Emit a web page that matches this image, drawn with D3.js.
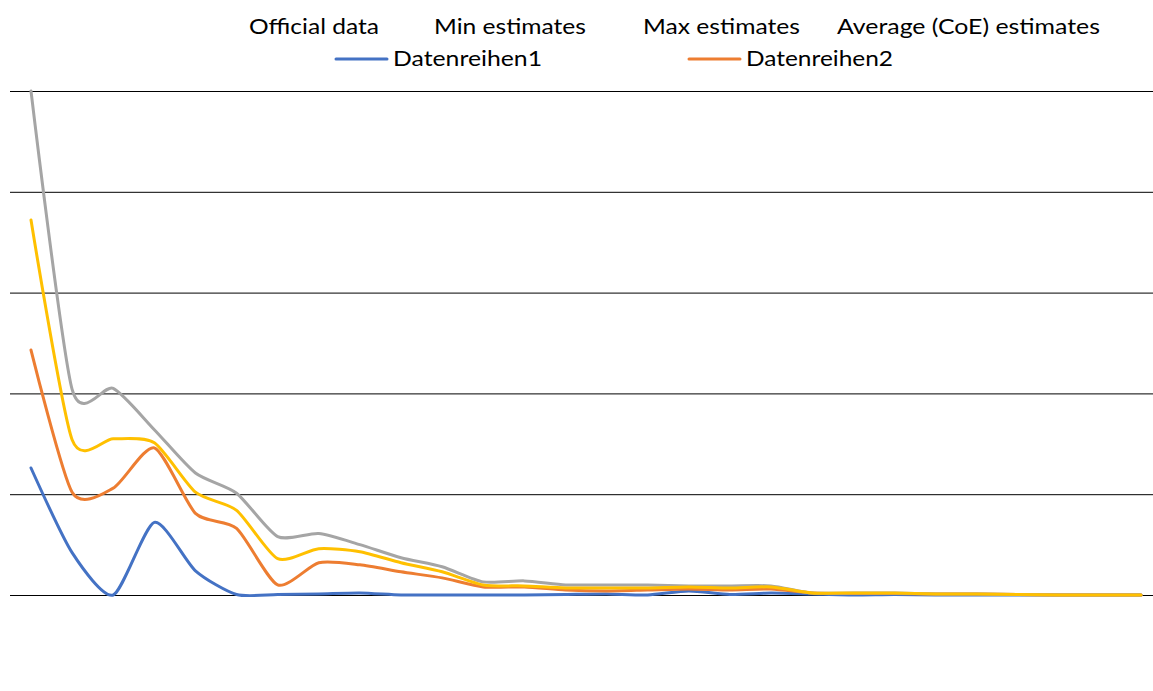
<!DOCTYPE html>
<html>
<head>
<meta charset="utf-8">
<script src="https://cdn.jsdelivr.net/npm/d3@7"></script>
<style>
  body { margin: 0; background: #fff; }
  svg { display: block; }
  text { font-family: Lato, "Open Sans", sans-serif; fill: #000; }
</style>
</head>
<body>
<svg id="chart"></svg>
<script>
// categories (no labels are shown on the x axis)
const categories = d3.range(1, 29).map(String);

// series values (gridline step = 100)
const datenreihen1 = [126, 42, 0, 72, 24, 0.5, 0.5, 1, 2, 0, 0, 0, 0, 0.5, 1, 0, 4, 0.5, 2, 1, 0, 0.5, 0, 0, 0, 0, 0, 0];
const datenreihen2 = [243, 102, 106, 146, 81, 66, 10, 32, 30, 23, 17, 8, 8, 5, 4, 5, 6, 5, 6, 2, 1.5, 1.5, 1, 1, 0.5, 0, 0, 0];
const grey = [500, 204, 205, 164, 121, 101, 58, 61, 50, 37, 28, 13, 14, 10, 10, 10, 9, 9, 9, 2, 2, 2, 1, 1, 0.5, 0, 0, 0];
const yellow = [372, 154, 155, 151, 102, 84, 36, 46, 43, 32, 23, 10, 9, 7, 7, 7, 8, 7, 8, 2, 2, 2, 1, 1, 0.5, 0, 0, 0];

const yTicks = [0, 100, 200, 300, 400, 500];

const legendRow1 = ["Official data", "Min estimates", "Max estimates", "Average (CoE) estimates"];
const legendRow2 = ["Datenreihen1", "Datenreihen2"];

const width = 1153, height = 691;
const svg = d3.select("#chart").attr("width", width).attr("height", height);

const xScale = d3.scalePoint()
    .domain(categories)
    .range([31, 1141]);

const yScale = d3.scaleLinear()
    .domain([0, 500])
    .range([595, 91]);

// gridlines
const yAxis = d3.axisLeft(yScale)
    .tickValues(yTicks)
    .tickSize(-(width - 10))
    .tickFormat("");

svg.append("g")
    .attr("transform", "translate(10,0)")
    .call(yAxis)
    .call(g => g.select(".domain").remove())
    .selectAll("line")
        .attr("stroke", "#000")
        .attr("stroke-width", 1);

const line = d3.line()
    .x((d, i) => xScale(categories[i]))
    .y(d => yScale(d))
    .curve(d3.curveCardinal.tension(0.3));

const series = [
    { values: datenreihen1, color: "#4472C4" },
    { values: datenreihen2, color: "#ED7D31" },
    { values: grey, color: "#A5A5A5" },
    { values: yellow, color: "#FFC000" }
];

svg.selectAll(".series")
    .data(series)
    .enter()
    .append("path")
    .attr("class", "series")
    .attr("fill", "none")
    .attr("stroke", d => d.color)
    .attr("stroke-width", 3)
    .attr("stroke-linecap", "round")
    .attr("d", d => line(d.values));

// legend (text stretched to the widths seen in the picture)
const row1X = [249, 434, 643, 837];
const row1W = [130, 152, 157, 263];
svg.selectAll(".leg1")
    .data(legendRow1)
    .enter()
    .append("text")
    .attr("class", "leg1")
    .attr("x", (d, i) => row1X[i])
    .attr("y", 34)
    .attr("textLength", (d, i) => row1W[i])
    .attr("lengthAdjust", "spacingAndGlyphs")
    .style("font-size", "21px")
    .text(d => d);

const row2X = [336, 689];
const row2W = [149, 147];
const row2Colors = ["#4472C4", "#ED7D31"];
const leg2 = svg.selectAll(".leg2")
    .data(legendRow2)
    .enter()
    .append("g")
    .attr("class", "leg2")
    .attr("transform", (d, i) => `translate(${row2X[i]}, 59)`);

leg2.append("line")
    .attr("x1", 0).attr("x2", 51)
    .attr("stroke", (d, i) => row2Colors[i])
    .attr("stroke-width", 3)
    .attr("stroke-linecap", "round");

leg2.append("text")
    .attr("x", 57)
    .attr("y", 7)
    .attr("textLength", (d, i) => row2W[i])
    .attr("lengthAdjust", "spacingAndGlyphs")
    .style("font-size", "21px")
    .text(d => d);
</script>
</body>
</html>
